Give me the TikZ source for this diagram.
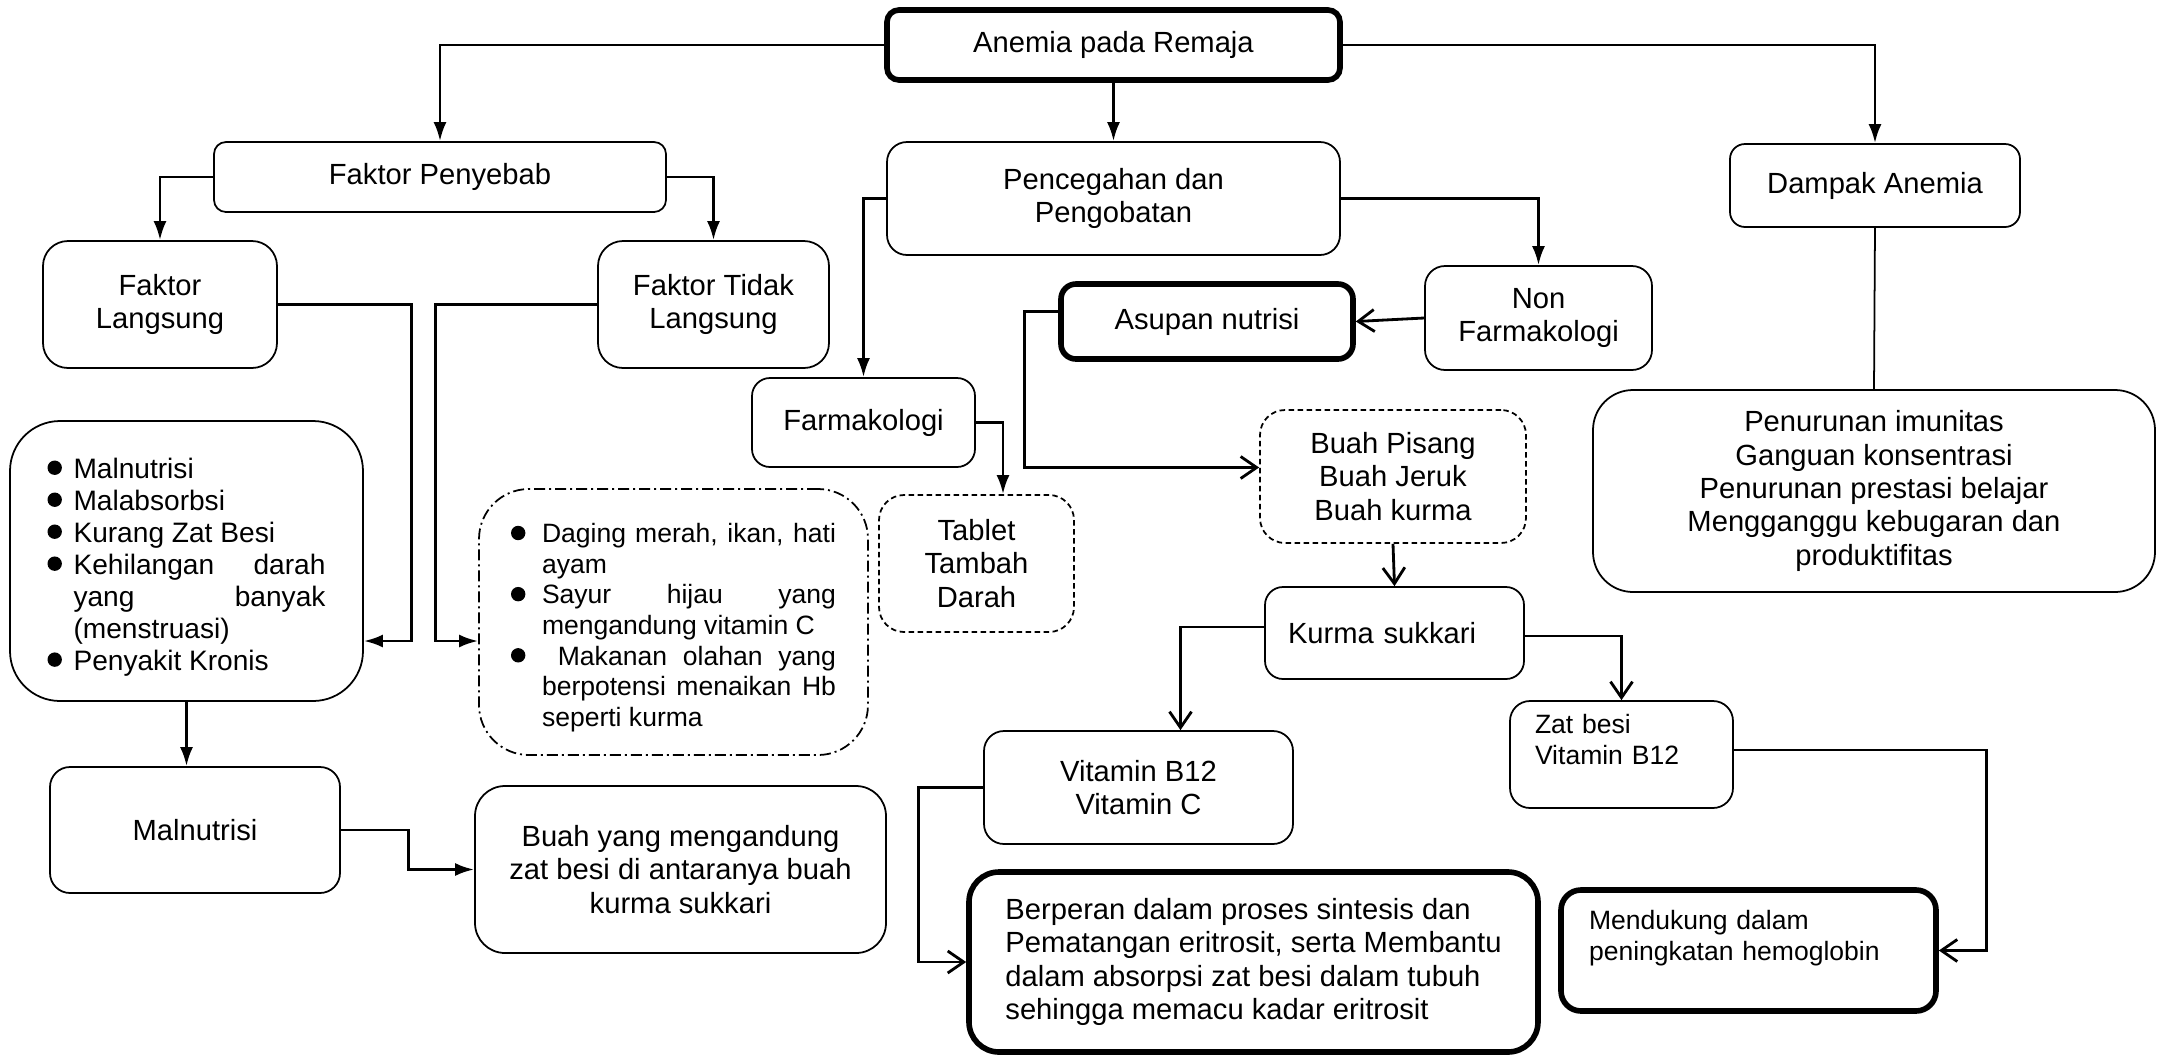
\documentclass[tikz,border=0pt]{standalone}
\usepackage{graphicx}
\usepackage{fontspec}
\setmainfont{Liberation Sans}
\usepackage{tikz}
\usetikzlibrary{arrows.meta}
\usetikzlibrary{calc}
\hyphenpenalty=10000
\exhyphenpenalty=10000
\tolerance=9999
\hbadness=10000
\newcommand{\blt}{\tikz[baseline={(0pt,-0.37em)}]\fill (0pt,0pt) circle (0.72mm);}
\newenvironment{bullets}[1]{\begin{list}{\blt}{\setlength{\leftmargin}{#1}\setlength{\labelwidth}{2mm}\setlength{\labelsep}{\dimexpr#1-2mm\relax}\setlength{\itemsep}{0pt}\setlength{\parsep}{0pt}\setlength{\topsep}{0pt}\setlength{\partopsep}{0pt}\setlength{\itemindent}{0pt}\renewcommand{\makelabel}[1]{##1\hfil}}}{\end{list}}

\begin{document}
\begin{tikzpicture}[x=0.1mm,y=-0.1mm,
  font=\fontsize{8.3}{9.5}\selectfont,
  rbox/.style={draw,line width=0.5pt,rounded corners=2mm,align=center,inner sep=1mm},
  thickbox/.style={rbox,line width=1.6pt},
  dbox/.style={rbox,dash pattern=on 0.55mm off 0.35mm},
  ddbox/.style={rbox,dash pattern=on 1.1mm off 0.4mm on 0.2mm off 0.4mm},
  smalltext/.style={font=\fontsize{7.55}{8.6}\selectfont},
  arr/.style={-{Latex[length=1.9mm,width=1.3mm]},line width=0.8pt},
  oarr/.style={-{Straight Barb[length=1.6mm,width=2.2mm]},line width=0.8pt}]
  \useasboundingbox (0,0) rectangle (2159,1055);
  % boxes
  \node[thickbox,rounded corners=1.2mm,minimum width=45.3mm,minimum height=7mm] (anemia) at (1113.5,45) {Anemia pada Remaja};
  \node[rbox,rounded corners=1.2mm,minimum width=45.2mm,minimum height=7mm] (fp) at (440,177) {Faktor Penyebab};
  \node[rbox,rounded corners=2.5mm,minimum width=23.4mm,minimum height=12.7mm] (fl) at (160,304.5) {Faktor\\Langsung};
  \node[rbox,rounded corners=2.5mm,minimum width=23.1mm,minimum height=12.7mm] (ftl) at (713.5,304.5) {Faktor Tidak\\Langsung};
  \node[rbox,rounded corners=5mm,minimum width=35.3mm,minimum height=28mm,text width=27.8mm,align=justify,font=\fontsize{8}{9.1}\selectfont] (blist) at (186.5,561)
    {\begin{bullets}{2.6mm}\item Malnutrisi \item Malabsorbsi \item Kurang Zat Besi \item Kehilangan darah yang banyak (menstruasi) \item Penyakit Kronis\end{bullets}};
  \node[rbox,minimum width=29mm,minimum height=12.6mm] (mal) at (195,830) {Malnutrisi};
  \node[rbox,rounded corners=3mm,minimum width=41.1mm,minimum height=16.7mm] (buah) at (680.5,869.5) {Buah yang mengandung\\zat besi di antaranya buah\\kurma sukkari};
  \node[ddbox,rounded corners=5mm,minimum width=38.9mm,minimum height=26.6mm,text width=32.5mm,align=justify,font=\fontsize{7.55}{8.7}\selectfont] (dlist) at (673.5,622)
    {\begin{bullets}{3.1mm}\item Daging merah, ikan, hati ayam \item Sayur hijau yang mengandung vitamin C \item\ Makanan olahan yang berpotensi menaikan Hb seperti kurma\end{bullets}};
  \node[rbox,minimum width=45.3mm,minimum height=11.3mm] (pp) at (1113.5,198.5) {Pencegahan dan\\Pengobatan};
  \node[rbox,rounded corners=1.8mm,minimum width=22.3mm,minimum height=8.9mm] (farm) at (863.5,422.5) {Farmakologi};
  \node[dbox,rounded corners=2.5mm,minimum width=19.5mm,minimum height=13.7mm] (tablet) at (976.5,563.5) {Tablet\\Tambah\\Darah};
  \node[rbox,rounded corners=1.5mm,minimum width=29mm,minimum height=8.3mm] (dampak) at (1875,185.5) {Dampak Anemia};
  \node[rbox,rounded corners=4mm,minimum width=56.2mm,minimum height=20.2mm] (pen) at (1874,491) {Penurunan imunitas\\Ganguan konsentrasi\\Penurunan prestasi belajar\\Mengganggu kebugaran dan\\produktifitas};
  \node[rbox,minimum width=22.7mm,minimum height=10.4mm] (nonfarm) at (1538.5,318) {Non\\Farmakologi};
  \node[thickbox,rounded corners=1.5mm,minimum width=29.2mm,minimum height=7.5mm] (asupan) at (1207,321.5) {Asupan nutrisi};
  \node[dbox,rounded corners=2.5mm,minimum width=26.6mm,minimum height=13.3mm] (pisang) at (1393,476.5) {Buah Pisang\\Buah Jeruk\\Buah kurma};
  \node[rbox,rounded corners=1.8mm,minimum height=9.2mm,inner xsep=2.3mm,text width=21.3mm,align=left] (kurma) at (1394.5,633) {Kurma sukkari};
  \node[rbox,minimum width=30.9mm,minimum height=11.3mm] (vit) at (1138.5,787.5) {Vitamin B12\\Vitamin C};
  \node[rbox,minimum height=10.7mm,inner xsep=2.5mm,text width=17.3mm,align=left,smalltext] (zat) at (1621.5,754.5) {Zat besi\\Vitamin B12\\\mbox{}};
  \node[thickbox,rounded corners=3mm,minimum width=56.9mm,minimum height=18mm,align=left] (berp) at (1253.5,962) {Berperan dalam proses sintesis dan\\Pematangan eritrosit, serta Membantu\\dalam absorpsi zat besi dalam tubuh\\sehingga memacu kadar eritrosit};
  \node[thickbox,rounded corners=2mm,minimum height=12.1mm,inner xsep=2.8mm,text width=31.9mm,align=left,font=\fontsize{7.55}{8.8}\selectfont] (mend) at (1748.5,950.5) {Mendukung dalam\\peningkatan hemoglobin\\\mbox{}};
  % connectors
  \draw[arr] (anemia.west) -| (fp.north);
  \draw[arr] (anemia.south) -- (pp.north);
  \draw[arr] (anemia.east) -| (dampak.north);
  \draw[arr] (fp.west) -| (fl.north);
  \draw[arr] (fp.east) -| (ftl.north);
  \draw[arr] (fl.east) -- ++(134,0) |- ($(blist.east)+(0,80)$);
  \draw[arr] (ftl.west) -- ++(-162,0) |- ($(dlist.west)+(0,19)$);
  \draw[arr] (blist.south) -- (blist.south |- mal.north);
  \draw[arr] (mal.east) -- ++(68,0) |- (buah.west);
  \draw[arr] (pp.west) -| (farm.north);
  \draw[arr] (farm.east) -| ($(tablet.north)+(26.5,0)$);
  \draw[arr] (pp.east) -| (nonfarm.north);
  \draw[line width=0.5pt] (dampak.south) -- (pen.north);
  \draw[oarr] (nonfarm.west) -- (asupan.east);
  \draw[oarr] ([yshift=1mm]asupan.west) -- ++(-34,0) |- ($(pisang.west)+(0,-9)$);
  \draw[oarr] (pisang.south) -- (kurma.north);
  \draw[oarr] ([yshift=0.6mm]kurma.west) -| ($(vit.north)+(42,0)$);
  \draw[oarr] ([yshift=-0.3mm]kurma.east) -| (zat.north);
  \draw[oarr] (vit.west) -- ++(-65,0) |- (berp.west);
  \draw[oarr] ([yshift=0.45mm]zat.east) -- ++(253,0) |- (mend.east);
\end{tikzpicture}
\end{document}
